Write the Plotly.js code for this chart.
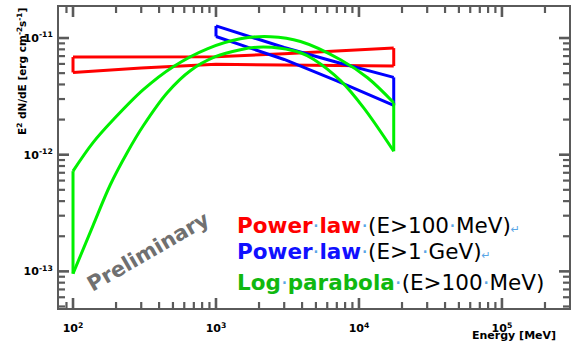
<!DOCTYPE html>
<html>
<head>
<meta charset="utf-8">
<script src="https://cdn.plot.ly/plotly-3.0.1.min.js"></script>
<style>
  html, body { margin: 0; padding: 0; background: #fff; }
  #chart { width: 572px; height: 342px; }
</style>
</head>
<body>
<div id="chart"></div>
<script>
// E^2 dN/dE spectral butterflies: two power-law fits and a log-parabola fit.

// Power law, E > 100 MeV
const plE    = [100, 300, 1000, 3000, 17500];
const plHigh = [6.87e-12, 6.85e-12, 6.90e-12, 7.35e-12, 8.20e-12];
const plLow  = [5.07e-12, 5.53e-12, 5.96e-12, 5.85e-12, 5.75e-12];

// Power law, E > 1 GeV
const plGeVE    = [1000, 2000, 3000, 7000, 17500];
const plGeVHigh = [12.7e-12, 9.7e-12, 8.3e-12, 6.2e-12, 4.6e-12];
const plGeVLow  = [10.3e-12, 7.8e-12, 6.55e-12, 4.3e-12, 2.65e-12];

// Log parabola, E > 100 MeV (upper and lower envelopes)
const lpHighE = [100, 138, 191, 310, 502, 869, 1480, 2400, 3900, 7430, 11480, 17500];
const lpHigh  = [0.723e-12, 1.268e-12, 1.99e-12, 3.61e-12, 5.68e-12, 8.09e-12,
                 9.86e-12, 10.26e-12, 9.35e-12, 6.52e-12, 4.57e-12, 2.79e-12];
const lpLowE  = [100, 138, 182, 239, 310, 456, 661, 990, 1480, 1945, 2820, 3900,
                 4810, 7430, 10760, 17500];
const lpLow   = [0.0955e-12, 0.247e-12, 0.550e-12, 1.04e-12, 1.77e-12, 3.40e-12,
                 5.25e-12, 6.92e-12, 7.94e-12, 8.34e-12, 8.18e-12, 7.48e-12,
                 6.58e-12, 4.31e-12, 2.53e-12, 1.07e-12];

// Axis ticks
const xTickVals = [1e2, 1e3, 1e4, 1e5];
const xTickText = ['10<sup>2</sup>', '10<sup>3</sup>', '10<sup>4</sup>', '10<sup>5</sup>'];
const yTickVals = [1e-13, 1e-12, 1e-11];
const yTickText = ['10<sup>-13</sup>', '10<sup>-12</sup>', '10<sup>-11</sup>'];

const xRange = [1.902, 5.469];   // log10(E / MeV)
const yRange = [-13.314, -10.734];

function minorTicks(fromExp, toExp) {
  const v = [];
  for (let d = fromExp; d <= toExp; d++) {
    for (let k = 2; k <= 9; k++) v.push(k * Math.pow(10, d));
  }
  return v;
}
const inside = r => v => Math.log10(v) > r[0] + 0.01 && Math.log10(v) < r[1] - 0.01;
const xMinor = minorTicks(1, 5).filter(inside(xRange));
const yMinor = minorTicks(-14, -11).filter(inside(yRange));

// plot-area geometry in pixels
const L = 59, R = 3, T = 7, B = 34, FW = 572, FH = 342;
const PW = FW - L - R, PH = FH - T - B;
const px = x => (x - L) / PW;
const py = y => (FH - B - y) / PH;

const W = 3;
// Outline of a band: upper edge, lower edge and the two vertical end caps.
function band(xHi, yHi, xLo, yLo, color, shape) {
  const line = { color: color, width: W, shape: shape };
  const n = xHi.length - 1, m = xLo.length - 1;
  return [
    { x: xHi, y: yHi, mode: 'lines', line: line, hoverinfo: 'skip' },
    { x: xLo, y: yLo, mode: 'lines', line: line, hoverinfo: 'skip' },
    { x: [xHi[0], xLo[0], null, xHi[n], xLo[m]],
      y: [yHi[0], yLo[0], null, yHi[n], yLo[m]],
      mode: 'lines', line: { color: color, width: W }, connectgaps: false, hoverinfo: 'skip' }
  ];
}

// Inward tick marks on all four sides, as line segments on the log axes.
const frame = '#5a5a5a';
const dexPerPxX = (xRange[1] - xRange[0]) / PW;
const dexPerPxY = (yRange[1] - yRange[0]) / PH;
function tickTrace(xVals, yVals, lenPx, width) {
  const x = [], y = [];
  xVals.forEach(v => {
    x.push(v, v, null, v, v, null);
    y.push(Math.pow(10, yRange[0]), Math.pow(10, yRange[0] + lenPx * dexPerPxY), null,
           Math.pow(10, yRange[1]), Math.pow(10, yRange[1] - lenPx * dexPerPxY), null);
  });
  yVals.forEach(v => {
    y.push(v, v, null, v, v, null);
    x.push(Math.pow(10, xRange[0]), Math.pow(10, xRange[0] + lenPx * dexPerPxX), null,
           Math.pow(10, xRange[1]), Math.pow(10, xRange[1] - lenPx * dexPerPxX), null);
  });
  return { x: x, y: y, mode: 'lines', line: { color: frame, width: width },
           connectgaps: false, hoverinfo: 'skip' };
}

const traces = [
  tickTrace(xMinor, yMinor, 6, 2.2),
  tickTrace(xTickVals, yTickVals, 10, 2.6)
]
  .concat(band(plE, plHigh, plE, plLow, '#ff0000', 'linear'))
  .concat(band(plGeVE, plGeVHigh, plGeVE, plGeVLow, '#0000ff', 'linear'))
  .concat(band(lpHighE, lpHigh, lpLowE, lpLow, '#00f000', 'spline'));

const dot = '<span style="color:#5aa6e6">·</span>';
const ret = '<span style="color:#5aa6e6;font-size:11px">↵</span>';
function colored(txt, c) { return '<span style="color:' + c + '"><b>' + txt + '</b></span>'; }

const legendFont = { family: 'DejaVu Sans', size: 21.5, color: '#000' };
const annotations = [
  { text: colored('Power', '#ff0000') + dot + colored('law', '#ff0000') + dot +
          '(E&gt;100' + dot + 'MeV)' + ret,
    x: px(235), y: py(225), xanchor: 'left', yanchor: 'middle' },
  { text: colored('Power', '#1010ff') + dot + colored('law', '#1010ff') + dot +
          '(E&gt;1' + dot + 'GeV)' + ret,
    x: px(235), y: py(251), xanchor: 'left', yanchor: 'middle' },
  { text: colored('Log', '#10b810') + dot + colored('parabola', '#10b810') + dot +
          '(E&gt;100' + dot + 'MeV)',
    x: px(235), y: py(282), xanchor: 'left', yanchor: 'middle' }
].map(a => Object.assign({ xref: 'paper', yref: 'paper', showarrow: false, font: legendFont }, a));

annotations.push({
  text: '<b>Preliminary</b>', xref: 'paper', yref: 'paper', x: px(148), y: py(252),
  xanchor: 'center', yanchor: 'middle', textangle: -30, showarrow: false,
  font: { family: 'DejaVu Sans', size: 21, color: '#707070' }
});
annotations.push({
  text: '<b>E<sup>2</sup> dN/dE [erg cm<sup>-2</sup>s<sup>-1</sup>]</b>',
  xref: 'paper', yref: 'paper', x: px(22), y: py(72), xanchor: 'center', yanchor: 'middle',
  textangle: -90, showarrow: false,
  font: { family: 'DejaVu Sans', size: 10.5, color: '#000' }
});
annotations.push({
  text: '<b>Energy [MeV]</b>', xref: 'paper', yref: 'paper', x: px(558), y: py(335),
  xanchor: 'right', yanchor: 'middle', showarrow: false,
  font: { family: 'DejaVu Sans', size: 11, color: '#000' }
});

const axisCommon = {
  type: 'log', showgrid: false, zeroline: false, ticks: '',
  showline: true, linecolor: frame, linewidth: 2, mirror: true,
  tickmode: 'array', fixedrange: true,
  tickfont: { family: 'DejaVu Sans', size: 11, color: '#000', weight: 'bold' }
};

const layout = {
  width: FW, height: FH,
  margin: { l: L, r: R, t: T, b: B },
  paper_bgcolor: '#fff', plot_bgcolor: '#fff',
  showlegend: false,
  xaxis: Object.assign({}, axisCommon, {
    range: xRange, tickvals: xTickVals, ticktext: xTickText, ticklabelstandoff: 9
  }),
  yaxis: Object.assign({}, axisCommon, {
    range: yRange, tickvals: yTickVals, ticktext: yTickText, ticklabelstandoff: 2
  }),
  annotations: annotations
};

Plotly.newPlot('chart', traces, layout, { displayModeBar: false, staticPlot: true });
</script>
</body>
</html>
